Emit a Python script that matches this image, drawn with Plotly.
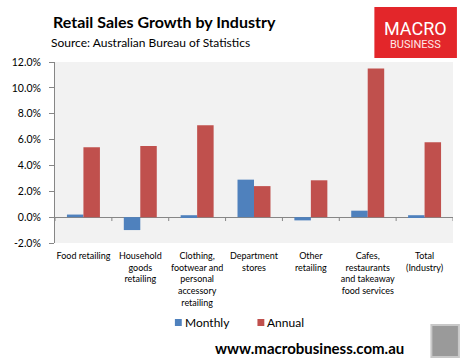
import plotly.graph_objects as go

categories = ["Food retailing", "Household goods retailing",
              "Clothing, footwear and personal accessory retailing",
              "Department stores", "Other retailing",
              "Cafes, restaurants and takeaway food services", "Total (Industry)"]
tick_labels = ["Food retailing", "Household<br>goods<br>retailing",
               "Clothing,<br>footwear and<br>personal<br>accessory<br>retailing",
               "Department<br>stores", "Other<br>retailing",
               "Cafes,<br>restaurants<br>and takeaway<br>food services",
               "Total<br>(Industry)"]
series_names = ["Monthly", "Annual"]
monthly = [0.2, -1.0, 0.15, 2.9, -0.25, 0.5, 0.15]
annual = [5.4, 5.5, 7.1, 2.4, 2.85, 11.5, 5.8]
y_ticks = [-2, 0, 2, 4, 6, 8, 10, 12]

W, H = 467, 363
L, R, T, B = 48, 453, 62, 243

def px(x):
    return (x - L) / (R - L)

def py(y):
    return (B - y) / (B - T)

FONT = "Lato, Carlito, 'Liberation Sans', sans-serif"
BLUE, RED = "#4f81bd", "#c0504d"

fig = go.Figure()
fig.add_trace(go.Bar(x=list(range(7)), y=monthly, name=series_names[0],
                     marker=dict(color=BLUE, line=dict(width=0))))
fig.add_trace(go.Bar(x=list(range(7)), y=annual, name=series_names[1],
                     marker=dict(color=RED, line=dict(width=0))))

shapes = []
# tick marks between categories on the zero axis
for i in range(8):
    shapes.append(dict(type="line", xref="x", yref="y", x0=i - 0.5, x1=i - 0.5,
                       y0=0, y1=-0.3, line=dict(color="#868686", width=1)))
# logo box
shapes.append(dict(type="rect", xref="paper", yref="paper",
                   x0=px(373), x1=px(457), y0=py(58), y1=py(7),
                   fillcolor="#e3262a", line=dict(width=0), layer="above"))
# wolf picture placeholder
shapes.append(dict(type="rect", xref="paper", yref="paper",
                   x0=px(431), x1=px(459), y0=py(357), y1=py(325),
                   fillcolor="#9a9a9a", line=dict(color="#c8c8c8", width=2), layer="above"))
# manual legend markers
legend_x = [170, 254]
for lx, col in zip(legend_x, [BLUE, RED]):
    shapes.append(dict(type="rect", xref="paper", yref="paper",
                       x0=px(lx), x1=px(lx + 7), y0=py(326), y1=py(319),
                       fillcolor=col, line=dict(width=0)))

annotations = [
    dict(text="<b>Retail Sales Growth by Industry</b>", x=px(44), y=py(22),
         xref="paper", yref="paper", xanchor="left", yanchor="middle",
         showarrow=False, font=dict(size=16, color="#000000", family=FONT)),
    dict(text="Source: Australian Bureau of Statistics", x=px(42), y=py(43),
         xref="paper", yref="paper", xanchor="left", yanchor="middle",
         showarrow=False, font=dict(size=12, color="#000000", family=FONT)),
    dict(text="MACRO", x=px(415), y=py(28), xref="paper", yref="paper",
         xanchor="center", yanchor="middle", showarrow=False,
         font=dict(size=18, color="#ffffff", family="'Liberation Sans Narrow', Roboto, sans-serif")),
    dict(text="BUSINESS", x=px(415), y=py(45), xref="paper", yref="paper",
         xanchor="center", yanchor="middle", showarrow=False,
         font=dict(size=11, color="#ffe8e8", family="Roboto, sans-serif")),
    dict(text="<b>www.macrobusiness.com.au</b>", x=px(307), y=py(348),
         xref="paper", yref="paper", xanchor="center", yanchor="middle",
         showarrow=False, font=dict(size=15, color="#000000", family=FONT)),
]
for lx, name in zip(legend_x, series_names):
    annotations.append(dict(text=name, x=px(lx + 8), y=py(322), xref="paper", yref="paper",
                            xanchor="left", yanchor="middle", showarrow=False,
                            font=dict(size=12, color="#000000", family=FONT)))

fig.update_layout(
    width=W, height=H,
    margin=dict(l=L, r=W - R, t=T, b=H - B),
    paper_bgcolor="#ffffff", plot_bgcolor="#f2f2f2",
    barmode="group", bargap=0.42, bargroupgap=0,
    showlegend=False,
    shapes=shapes, annotations=annotations,
    font=dict(family=FONT),
)
fig.update_xaxes(tickmode="array", tickvals=list(range(7)), ticktext=tick_labels,
                 range=[-0.5, 6.5], showgrid=False, showline=False, ticks="",
                 tickfont=dict(size=9, color="#000000", family=FONT),
                 ticklabelstandoff=6, zeroline=False)
fig.update_yaxes(range=[-2, 12], tickvals=y_ticks,
                 ticktext=[f"{v:.1f}%" for v in y_ticks],
                 showgrid=False, showline=True, linecolor="#868686", linewidth=1,
                 ticks="outside", ticklen=5, tickcolor="#868686",
                 tickfont=dict(size=10.5, color="#000000", family=FONT),
                 ticklabelstandoff=6,
                 zeroline=True, zerolinecolor="#868686", zerolinewidth=1)

fig.write_html("out.html", config={"displayModeBar": False},
               post_script="document.body.style.margin='0';document.body.style.padding='0';")
